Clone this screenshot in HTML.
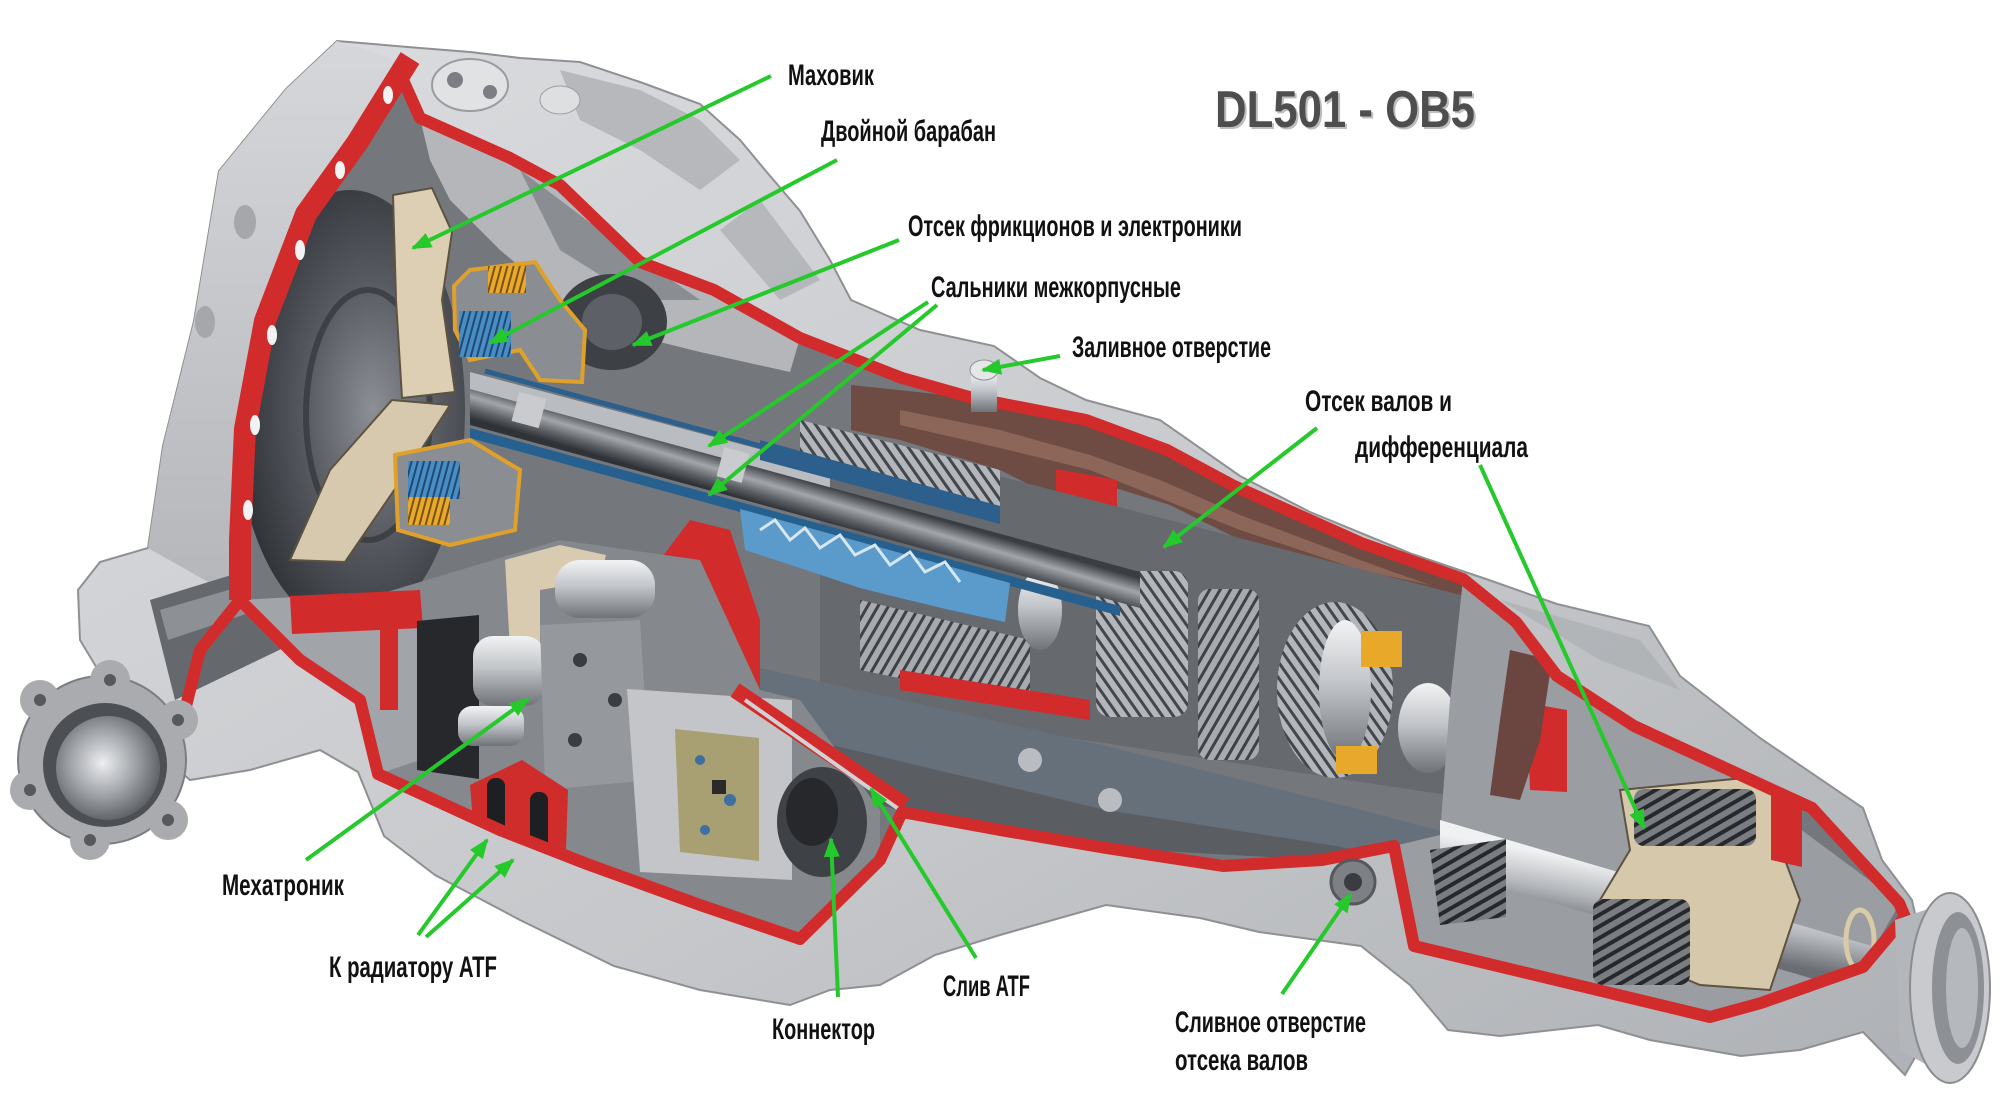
<!DOCTYPE html>
<html><head><meta charset="utf-8"><style>
html,body{margin:0;padding:0;background:#fff;}
svg{display:block}
.lb{font-family:"Liberation Sans Narrow","Liberation Sans","DejaVu Sans Condensed",sans-serif;font-weight:bold;font-size:30px;fill:#111;}
.ttl{font-family:"Liberation Sans","DejaVu Sans",sans-serif;font-weight:bold;font-size:52px;}
</style></head><body>
<svg width="2000" height="1120" viewBox="0 0 2000 1120" xmlns="http://www.w3.org/2000/svg">
<defs>
<linearGradient id="bg" x1="0" y1="0" x2="1" y2="1"><stop offset="0" stop-color="#dcdde0"/><stop offset=".6" stop-color="#c5c7ca"/><stop offset="1" stop-color="#aeb1b5"/></linearGradient>
<linearGradient id="bell" x1="0" y1="0" x2="0" y2="1"><stop offset="0" stop-color="#d6d7da"/><stop offset="1" stop-color="#b4b6ba"/></linearGradient>
<radialGradient id="fly" cx="0.6" cy="0.5" r="0.6"><stop offset="0" stop-color="#8c9096"/><stop offset=".5" stop-color="#565a60"/><stop offset="1" stop-color="#2e3136"/></radialGradient>
<linearGradient id="shaftG" gradientUnits="userSpaceOnUse" x1="805" y1="480" x2="795" y2="514"><stop offset="0" stop-color="#3a3d42"/><stop offset=".4" stop-color="#a3a6ab"/><stop offset=".75" stop-color="#5a5d62"/><stop offset="1" stop-color="#2f3236"/></linearGradient>
<linearGradient id="sv" x1="0" y1="0" x2="0" y2="1"><stop offset="0" stop-color="#f2f3f4"/><stop offset=".45" stop-color="#c2c5c9"/><stop offset="1" stop-color="#6f7378"/></linearGradient>
<linearGradient id="sv2" gradientUnits="userSpaceOnUse" x1="1690" y1="880" x2="1678" y2="945"><stop offset="0" stop-color="#f0f1f2"/><stop offset=".5" stop-color="#b5b8bc"/><stop offset="1" stop-color="#6a6e73"/></linearGradient>
<radialGradient id="flg" cx="0.45" cy="0.45" r="0.6"><stop offset="0" stop-color="#eceef0"/><stop offset=".5" stop-color="#a3a6ab"/><stop offset="1" stop-color="#55585d"/></radialGradient>
<pattern id="gA" width="9" height="9" patternUnits="userSpaceOnUse" patternTransform="rotate(30)"><rect width="9" height="9" fill="#a7aaae"/><rect width="3" height="9" fill="#3e4145"/></pattern>
<pattern id="gB" width="9" height="9" patternUnits="userSpaceOnUse" patternTransform="rotate(-35)"><rect width="9" height="9" fill="#b3b6ba"/><rect width="3" height="9" fill="#43464a"/></pattern>
<pattern id="gC" width="10" height="10" patternUnits="userSpaceOnUse" patternTransform="rotate(60)"><rect width="10" height="10" fill="#7a7d82"/><rect width="4" height="10" fill="#26282b"/></pattern>
<pattern id="bl" width="6" height="6" patternUnits="userSpaceOnUse" patternTransform="rotate(15)"><rect width="6" height="6" fill="#4a8cc4"/><rect width="2" height="6" fill="#1d4b75"/></pattern>
<pattern id="or" width="6" height="6" patternUnits="userSpaceOnUse" patternTransform="rotate(15)"><rect width="6" height="6" fill="#e9a92c"/><rect width="2" height="6" fill="#7a5210"/></pattern>
<clipPath id="ic"><path d="M403,80 L420,118 L510,158 L560,185 L640,262 L714,290 L800,338 L902,378 L973,398 L1086,420 L1167,450 L1234,486 L1361,543 L1463,579 L1516,622 L1557,676 L1634,726 L1812,808 L1899,903 L1905,917 L1863,967 L1761,1003 L1710,1017 L1414,946 L1394,846 L1322,860 L1223,866 L1106,848 L1000,830 L902,812 L880,860 L800,939 L700,905 L587,864 L500,830 L378,774 L360,700 L300,660 L240,600 L240,540 L245,429 L265,321 L306,214 L357,143 Z"/></clipPath>
<marker id="ar" markerWidth="22" markerHeight="18" refX="18" refY="9" orient="auto" markerUnits="userSpaceOnUse"><path d="M0,1 L20,9 L0,17 Z" fill="#25c92c"/></marker>
</defs>
<rect width="2000" height="1120" fill="#fff"/>

<!-- main body silhouette -->
<path d="M337,41 L420,48 L470,52 L520,58 L580,62 L640,82 L700,104 L740,140 L765,170 L800,211 L830,260 L851,300 L920,330 L994,346 L1040,378 L1086,400 L1160,420 L1240,476 L1310,512 L1412,554 L1486,579 L1557,604 L1649,626 L1680,676 L1760,738 L1863,808 L1882,860 L1912,900 L1925,960 L1925,1040 L1905,1075 L1863,1032 L1800,1050 L1741,1056 L1650,1040 L1598,1025 L1500,1036 L1448,1030 L1410,985 L1361,946 L1259,932 L1200,918 L1106,905 L1000,935 L935,955 L880,985 L830,990 L790,1005 L700,990 L614,966 L520,920 L435,875 L384,836 L358,772 L320,750 L250,770 L190,780 L150,745 L110,690 L80,640 L78,590 L100,562 L148,548 L163,446 L194,321 L219,171 L286,89 Z" fill="url(#bg)" stroke="#8e9094" stroke-width="2"/>
<path d="M337,41 L403,62 L357,143 L306,214 L265,321 L245,429 L240,540 L240,600 L148,548 L163,446 L194,321 L219,171 L286,89 Z" fill="url(#bell)"/>
<path d="M560,70 L640,90 L700,120 L740,160 L700,190 L640,150 L580,120Z" fill="#a9abaf" opacity=".7"/>
<path d="M760,200 L820,280 L780,300 L720,230Z" fill="#a4a6aa" opacity=".6"/>
<path d="M1500,600 L1640,640 L1680,690 L1600,660Z" fill="#a9abaf" opacity=".6"/>
<ellipse cx="470" cy="85" rx="38" ry="26" fill="#e1e2e4" stroke="#9a9ca0" stroke-width="2"/>
<circle cx="455" cy="80" r="8" fill="#7b7e82"/><circle cx="490" cy="92" r="7" fill="#7b7e82"/>
<ellipse cx="560" cy="100" rx="20" ry="14" fill="#dedfe1" stroke="#9a9ca0"/>
<ellipse cx="245" cy="222" rx="11" ry="17" fill="#a5a7ab"/>
<ellipse cx="205" cy="322" rx="10" ry="16" fill="#a5a7ab"/>
<path d="M150,600 L280,560 L300,640 L175,700Z" fill="#65686d"/>
<path d="M160,610 L280,575 L288,600 L168,640Z" fill="#8d9095"/>

<!-- INTERIOR -->
<g clip-path="url(#ic)">
<rect x="200" y="50" width="1750" height="1000" fill="#74777c"/>
<path d="M420,118 L510,158 L560,185 L640,262 L714,290 L800,338 L790,372 L700,352 L620,332 L560,300 L500,250 L450,200 L430,160Z" fill="#b4b6ba"/>
<path d="M520,170 L600,230 L700,300 L640,300 L560,250Z" fill="#8a8d91"/>
<ellipse cx="350" cy="410" rx="115" ry="220" fill="url(#fly)"/>
<ellipse cx="368" cy="415" rx="62" ry="125" fill="none" stroke="#2b2e32" stroke-width="6" opacity=".6"/>
<ellipse cx="612" cy="322" rx="55" ry="48" fill="#3d4045"/>
<ellipse cx="612" cy="322" rx="30" ry="28" fill="#5d6066"/>
<path d="M393,195 L432,188 L452,232 L442,300 L455,392 L402,398 L396,300Z" fill="#dccfb3" stroke="#5e5240" stroke-width="2"/>
<path d="M290,560 L330,470 L392,400 L450,405 L408,470 L345,562Z" fill="#d6c9ad" stroke="#5e5240" stroke-width="2"/>
<path d="M454,286 L470,270 L535,262 L560,300 L585,330 L582,382 L540,380 L520,350 L470,360 L455,330Z" fill="#8a8d92" stroke="#e0a12a" stroke-width="4"/>
<rect x="459" y="311" width="52" height="46" fill="url(#bl)"/>
<rect x="488" y="266" width="38" height="27" fill="url(#or)"/>
<path d="M395,455 L470,440 L520,470 L515,530 L450,545 L398,530Z" fill="#8a8d92" stroke="#e0a12a" stroke-width="4"/>
<rect x="408" y="461" width="52" height="38" fill="url(#bl)"/>
<rect x="408" y="497" width="42" height="28" fill="url(#or)"/>
<!-- brown band -->
<path d="M851,385 L973,398 L1086,420 L1167,450 L1234,486 L1361,543 L1463,579 L1516,622 L1530,650 L1470,640 L1440,600 L1360,578 L1240,540 L1170,505 L1090,480 L1060,500 L1000,470 L900,440 L851,430Z" fill="#6e4b43"/>
<path d="M900,410 L1000,430 L1090,455 L1160,480 L1240,515 L1360,560 L1430,585 L1360,570 L1240,530 L1160,498 L1090,470 L1000,448 L900,425Z" fill="#8d665a"/>
<path d="M1056,469 L1117,480 L1117,561 L1080,555 L1056,520Z" fill="#d22b2b"/>
<!-- gear region -->
<path d="M820,430 L1480,600 L1480,800 L820,700Z" fill="#66696e"/>
<path d="M800,420 L1000,470 L1000,515 L800,465Z" fill="url(#gB)"/>
<path d="M860,600 L1030,640 L1030,705 L860,670Z" fill="url(#gA)"/>
<rect x="1096" y="571" width="92" height="146" rx="14" fill="url(#gB)"/>
<rect x="1198" y="589" width="61" height="171" rx="12" fill="url(#gA)"/>
<ellipse cx="1335" cy="690" rx="58" ry="88" fill="url(#gB)"/>
<ellipse cx="1345" cy="690" rx="26" ry="70" fill="url(#sv)"/>
<rect x="1361" y="631" width="41" height="36" fill="#e8a82a"/>
<rect x="1336" y="746" width="41" height="28" fill="#e8a82a"/>
<ellipse cx="1428" cy="728" rx="30" ry="45" fill="url(#sv)"/>
<ellipse cx="1040" cy="610" rx="22" ry="40" fill="url(#sv)"/>
<path d="M900,670 L1090,700 L1090,720 L900,690Z" fill="#d22b2b"/>
<path d="M690,520 L730,530 L760,620 L760,700 L720,690 L700,600 L660,560Z" fill="#d22b2b"/>
<!-- shafts -->
<path d="M470,372 L830,468 L830,492 L470,396Z" fill="#b9bcc0"/>
<path d="M485,371 L830,465" stroke="#2a5f8e" stroke-width="5"/>
<path d="M760,440 L1000,506 L1000,524 L760,460Z" fill="#2d5f8c"/>
<path d="M470,389 L1140,572 L1140,608 L470,425Z" fill="url(#shaftG)"/>
<path d="M470,428 L1120,606 L1120,616 L470,438Z" fill="#25608f"/>
<path d="M740,509 L1010,583 L1005,622 L950,610 L900,598 L860,588 L800,568 L745,550Z" fill="#5a9bcb"/>
<path d="M760,530 L775,520 L790,540 L805,528 L820,548 L840,535 L855,555 L875,545 L890,565 L910,552 L925,572 L945,562 L960,582" fill="none" stroke="#d8e6f0" stroke-width="3"/>
<rect x="515" y="395" width="28" height="30" fill="#c9cbce" transform="rotate(15 529 410)"/>
<rect x="720" y="450" width="26" height="30" fill="#c9cbce" transform="rotate(15 733 465)"/>
<!-- slate bar -->
<path d="M760,700 L1440,850 L1440,946 L1394,846 L1322,860 L1106,848 L902,812 L760,760Z" fill="#5a5e63"/>
<path d="M760,668 L1106,746 L1361,810 L1445,832 L1445,868 L1336,846 L1106,810 L760,728Z" fill="#66707a"/>
<ellipse cx="1030" cy="760" rx="12" ry="12" fill="#b9bcc0"/><ellipse cx="1110" cy="800" rx="12" ry="12" fill="#b9bcc0"/>
<!-- lower-left housing & mechatronic -->
<path d="M360,600 L560,540 L700,560 L760,690 L800,700 L880,810 L880,860 L800,939 L700,905 L587,864 L500,830 L378,774 L360,700Z" fill="#85888d"/>
<path d="M240,600 L420,590 L420,760 L378,774 L360,700 L300,660Z" fill="#a1a4a8"/>
<path d="M290,596 L420,590 L423,628 L292,634Z" fill="#d22b2b"/>
<rect x="380" y="600" width="18" height="110" fill="#d22b2b"/>
<path d="M417,621 L479,615 L479,779 L417,770Z" fill="#26282b"/>
<path d="M505,560 L560,545 L606,555 L600,580 L540,590 L540,654 L510,650Z" fill="#d8cbaf"/>
<rect x="555" y="560" width="100" height="58" rx="25" fill="url(#sv)"/>
<rect x="473" y="636" width="72" height="70" rx="20" fill="url(#sv)"/>
<rect x="458" y="706" width="66" height="40" rx="14" fill="url(#sv)"/>
<path d="M540,625 L640,620 L650,780 L545,790Z" fill="#95989c"/>
<circle cx="580" cy="660" r="7" fill="#3a3c40"/><circle cx="615" cy="700" r="7" fill="#3a3c40"/><circle cx="575" cy="740" r="7" fill="#3a3c40"/>
<path d="M627,689 L792,700 L792,880 L640,872Z" fill="#c3c5c8"/>
<path d="M675,729 L759,738 L759,861 L680,852Z" fill="#a89f72"/>
<circle cx="700" cy="760" r="5" fill="#3f6ea0"/><circle cx="730" cy="800" r="6" fill="#3f6ea0"/><circle cx="705" cy="830" r="5" fill="#3f6ea0"/><rect x="712" y="780" width="14" height="14" fill="#2a2a2a"/>
<path d="M470,785 L522,760 L568,790 L565,880 L520,895 L476,858Z" fill="#cf2c2c"/>
<rect x="487" y="778" width="18" height="90" rx="8" fill="#1e1f22"/>
<rect x="530" y="792" width="18" height="90" rx="8" fill="#1e1f22"/>
<path d="M735,690 L905,805" stroke="#d22b2b" stroke-width="16"/>
<path d="M745,700 L900,810" stroke="#d0d2d5" stroke-width="4"/>
<ellipse cx="822" cy="822" rx="45" ry="55" fill="#3e4146"/>
<ellipse cx="812" cy="812" rx="26" ry="34" fill="#26282b"/>
<!-- right section -->
<path d="M1463,579 L1900,903 L1863,967 L1710,1017 L1414,946 L1394,846 L1440,835 L1450,700Z" fill="#9a9da1"/>
<path d="M1440,820 L1920,960 L1920,1010 L1440,870Z" fill="url(#sv2)"/>
<path d="M1620,790 L1775,775 L1785,860 L1800,900 L1770,990 L1700,985 L1640,960 L1600,900 L1630,850Z" fill="#d6c8ab" stroke="#5e5240" stroke-width="2"/>
<rect x="1634" y="789" width="122" height="57" rx="10" fill="url(#gC)"/>
<rect x="1593" y="899" width="97" height="86" rx="10" fill="url(#gC)"/>
<path d="M1430,850 L1506,839 L1506,917 L1440,925Z" fill="url(#gC)"/>
<path d="M1527,703 L1567,710 L1567,792 L1530,790Z" fill="#d22b2b"/>
<path d="M1771,774 L1802,780 L1802,867 L1771,860Z" fill="#d22b2b"/>
<path d="M1510,650 L1552,660 L1540,740 L1520,800 L1490,795 L1500,720Z" fill="#6b4540"/>
<ellipse cx="1860" cy="940" rx="14" ry="30" fill="none" stroke="#d8cba8" stroke-width="5"/>
</g>
<!-- red cut outlines -->
<path d="M403,80 L420,118 L510,158 L560,185 L640,262 L714,290 L800,338 L902,378 L973,398 L1086,420 L1167,450 L1234,486 L1361,543 L1463,579 L1516,622 L1557,676 L1634,726 L1812,808 L1899,903 L1905,917 L1863,967 L1761,1003 L1710,1017 L1414,946 L1394,846 L1322,860 L1223,866 L1106,848 L1000,830 L902,812 L880,860 L800,939 L700,905 L587,864 L500,830 L378,774 L360,700 L300,660 L240,600" fill="none" stroke="#d22b2b" stroke-width="12" stroke-linejoin="round"/>
<path d="M410,58 L357,143 L306,214 L265,321 L245,429 L240,540 L240,600" fill="none" stroke="#d22b2b" stroke-width="22" stroke-linejoin="round"/>
<path d="M240,600 L200,650 L185,710" fill="none" stroke="#d22b2b" stroke-width="12"/>
<g fill="#f2f2f2"><ellipse cx="388" cy="95" rx="5" ry="9"/><ellipse cx="340" cy="170" rx="5" ry="9"/><ellipse cx="300" cy="250" rx="5" ry="10"/><ellipse cx="272" cy="335" rx="5" ry="10"/><ellipse cx="255" cy="425" rx="5" ry="10"/><ellipse cx="248" cy="510" rx="5" ry="10"/></g>
<rect x="971" y="372" width="26" height="40" fill="url(#sv)"/>
<ellipse cx="984" cy="370" rx="14" ry="10" fill="#e6e7e9" stroke="#8e9094"/>
<circle cx="1353" cy="882" r="22" fill="#7d8085" stroke="#55585d" stroke-width="3"/>
<circle cx="1353" cy="882" r="9" fill="#3a3c40"/>
<!-- right flange -->
<path d="M1895,920 L1940,905 L1945,1075 L1900,1050Z" fill="#b3b6ba"/>
<ellipse cx="1950" cy="988" rx="40" ry="95" fill="#c8cacd" stroke="#8a8c90" stroke-width="2"/>
<ellipse cx="1958" cy="988" rx="26" ry="76" fill="#8d9095"/>
<ellipse cx="1962" cy="988" rx="16" ry="60" fill="#b5b8bc"/>
<!-- left flange -->
<g>
<circle cx="102" cy="760" r="84" fill="#a9abaf" stroke="#7a7d81" stroke-width="2"/>
<circle cx="40" cy="700" r="20" fill="#a9abaf"/><circle cx="30" cy="790" r="20" fill="#a9abaf"/><circle cx="90" cy="840" r="20" fill="#a9abaf"/><circle cx="168" cy="820" r="20" fill="#a9abaf"/><circle cx="178" cy="720" r="20" fill="#a9abaf"/><circle cx="110" cy="680" r="20" fill="#a9abaf"/>
<circle cx="40" cy="700" r="6" fill="#55585d"/><circle cx="30" cy="790" r="6" fill="#55585d"/><circle cx="90" cy="840" r="6" fill="#55585d"/><circle cx="168" cy="820" r="6" fill="#55585d"/><circle cx="178" cy="720" r="6" fill="#55585d"/><circle cx="110" cy="680" r="6" fill="#55585d"/>
<circle cx="105" cy="765" r="62" fill="#4c4f54"/>
<circle cx="108" cy="768" r="52" fill="url(#flg)"/>
</g>

<text x="1217" y="129" class="ttl" fill="#bdbdbd" textLength="260" lengthAdjust="spacingAndGlyphs">DL501 - OB5</text>
<text x="1215" y="127" class="ttl" fill="#4e4e4e" textLength="260" lengthAdjust="spacingAndGlyphs">DL501 - OB5</text>

<g stroke="#25c92c" stroke-width="4" fill="none" marker-end="url(#ar)">
<line x1="771" y1="76" x2="413" y2="248"/>
<line x1="837" y1="160" x2="490" y2="343"/>
<line x1="899" y1="240" x2="633" y2="345"/>
<line x1="928" y1="302" x2="709" y2="446"/>
<line x1="937" y1="305" x2="709" y2="495"/>
<line x1="1060" y1="356" x2="983" y2="370"/>
<line x1="1317" y1="428" x2="1164" y2="547"/>
<line x1="1480" y1="465" x2="1644" y2="828"/>
<line x1="306" y1="860" x2="528" y2="699"/>
<line x1="418" y1="935" x2="487" y2="840"/>
<line x1="426" y1="937" x2="513" y2="860"/>
<line x1="838" y1="997" x2="831" y2="839"/>
<line x1="976" y1="958" x2="871" y2="789"/>
<line x1="1282" y1="994" x2="1351" y2="894"/>
</g>

<text class="lb" x="788" y="85" textLength="86" lengthAdjust="spacingAndGlyphs">Маховик</text>
<text class="lb" x="821" y="141" textLength="175" lengthAdjust="spacingAndGlyphs">Двойной барабан</text>
<text class="lb" x="908" y="236" textLength="334" lengthAdjust="spacingAndGlyphs">Отсек фрикционов и электроники</text>
<text class="lb" x="931" y="297" textLength="250" lengthAdjust="spacingAndGlyphs">Сальники межкорпусные</text>
<text class="lb" x="1072" y="357" textLength="199" lengthAdjust="spacingAndGlyphs">Заливное отверстие</text>
<text class="lb" x="1305" y="411" textLength="147" lengthAdjust="spacingAndGlyphs">Отсек валов и</text>
<text class="lb" x="1355" y="457" textLength="173" lengthAdjust="spacingAndGlyphs">дифференциала</text>
<text class="lb" x="222" y="895" textLength="122" lengthAdjust="spacingAndGlyphs">Мехатроник</text>
<text class="lb" x="329" y="977" textLength="168" lengthAdjust="spacingAndGlyphs">К радиатору ATF</text>
<text class="lb" x="772" y="1039" textLength="103" lengthAdjust="spacingAndGlyphs">Коннектор</text>
<text class="lb" x="943" y="996" textLength="87" lengthAdjust="spacingAndGlyphs">Слив ATF</text>
<text class="lb" x="1175" y="1032" textLength="191" lengthAdjust="spacingAndGlyphs">Сливное отверстие</text>
<text class="lb" x="1175" y="1070" textLength="133" lengthAdjust="spacingAndGlyphs">отсека валов</text>
</svg>
</body></html>
